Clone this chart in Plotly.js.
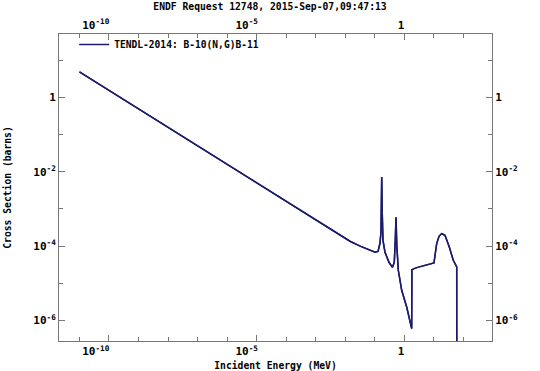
<!DOCTYPE html>
<html>
<head>
<meta charset="utf-8">
<script src="https://cdn.plot.ly/plotly-3.0.1.min.js"></script>
<style>html,body{margin:0;padding:0;background:#fff;}#chart{width:540px;height:371px;}</style>
</head>
<body>
<div id="chart"></div>
<script>
// Incident energy (MeV)
const energy = [1e-11, 1e-9, 1e-7, 1e-5, 1e-3, 3.0e-3, 6.6e-3, 1.45e-2, 3.2e-2, 5.0e-2, 6.9e-2, 0.089, 0.102, 0.129, 0.150, 0.1625, 0.1718,
  0.180, 0.190, 0.222, 0.303, 0.398, 0.458, 0.495, 0.524, 0.557, 0.627, 0.817, 1.205, 1.78, 1.81, 2.63,
  5.74, 10.1, 12.5, 15.0, 18.5, 23.9, 33.4, 45.6, 59.6, 60.0];
// Cross section (barns)
const crossSection = [4.90, 0.490, 0.0490, 4.90e-3, 4.90e-4, 2.84e-4, 1.91e-4, 1.35e-4, 1.0e-4, 8.5e-5, 7.8e-5, 7.1e-5, 6.8e-5, 7.2e-5, 1.19e-4, 2.35e-4, 7.26e-3,
  6.75e-4, 1.43e-4, 6.8e-5, 3.66e-5, 2.68e-5, 3.66e-5, 1.43e-4, 5.96e-4, 1.05e-4, 2.23e-5, 6.44e-6, 2.29e-6, 5.98e-7, 2.32e-5, 2.63e-5,
  3.03e-5, 3.50e-5, 1.17e-4, 1.83e-4, 2.17e-4, 1.95e-4, 9.4e-5, 4.14e-5, 2.73e-5, 1e-8];

const seriesName = 'TENDL-2014: B-10(N,G)B-11';
const chartTitle = 'ENDF Request 12748, 2015-Sep-07,09:47:13';
const xTitle = 'Incident Energy (MeV)';
const yTitle = 'Cross Section (barns)';

const xTickVals = [1e-10, 1e-5, 1];
const xTickText = ['10<sup>-10</sup>', '10<sup>-5</sup>', '1'];
const xMinorVals = [1e-11, 1e-10, 1e-9, 1e-8, 1e-7, 1e-6, 1e-5, 1e-4, 1e-3, 1e-2, 1e-1, 1, 10, 100];
const yTickVals = [1e-6, 1e-4, 1e-2, 1];
const yTickText = ['10<sup>-6</sup>', '10<sup>-4</sup>', '10<sup>-2</sup>', '1'];
const yMinorVals = [1e-7, 1e-6, 1e-5, 1e-4, 1e-3, 1e-2, 1e-1, 1, 10];

// right-align x labels to their tick by padding with non-breaking spaces
const NB = '\u00A0';
const xPad = [4, 3, 1];
const xTickTextPadded = xTickText.map((t, i) => t + NB.repeat(xPad[i]));

const FONT = 'DejaVu Sans Mono, monospace';
const lineColor = '#1c1c6a';
const axisColor = '#777777';
const tickFont = {family: FONT, size: 11, color: '#000', weight: 'bold'};

const xBase = {
  type: 'log', range: [-11.693, 2.97], showgrid: false, zeroline: false,
  showline: true, linecolor: axisColor, linewidth: 1,
  ticks: 'inside', ticklen: 6, tickcolor: axisColor, tickwidth: 1,
  tickmode: 'array', tickvals: xTickVals, ticktext: xTickTextPadded,
  minor: {tickmode: 'array', tickvals: xMinorVals, ticks: 'inside', ticklen: 4, tickcolor: axisColor, tickwidth: 1, showgrid: false},
  tickfont: tickFont,
  fixedrange: true
};
const yBase = {
  type: 'log', range: [-6.557, 1.713], showgrid: false, zeroline: false,
  showline: true, linecolor: axisColor, linewidth: 1,
  ticks: 'inside', ticklen: 6, tickcolor: axisColor, tickwidth: 1,
  tickmode: 'array', tickvals: yTickVals, ticktext: yTickText,
  minor: {tickmode: 'array', tickvals: yMinorVals, ticks: 'inside', ticklen: 4, tickcolor: axisColor, tickwidth: 1, showgrid: false},
  tickfont: tickFont,
  fixedrange: true
};

const traces = [
  {x: energy, y: crossSection, type: 'scatter', mode: 'lines', name: seriesName,
   line: {color: lineColor, width: 1.5}, xaxis: 'x', yaxis: 'y'},
  {x: energy, y: crossSection, type: 'scatter', mode: 'lines', showlegend: false, hoverinfo: 'skip',
   line: {color: lineColor, width: 1.5}, xaxis: 'x2', yaxis: 'y2'}
];

const layout = {
  width: 540, height: 371,
  margin: {l: 59, r: 48, t: 34, b: 30, pad: 0},
  paper_bgcolor: '#ffffff', plot_bgcolor: '#ffffff',
  font: {family: FONT, size: 10, color: '#000', weight: 'bold'},
  title: {text: chartTitle, x: 0.5, xref: 'container', xanchor: 'center', y: 0.982, yanchor: 'middle',
          font: {family: FONT, size: 9.7, color: '#000', weight: 'bold'}},
  xaxis: Object.assign({}, xBase, {side: 'bottom', anchor: 'y',
          title: {text: xTitle + NB.repeat(2), standoff: 6, font: {family: FONT, size: 9.7, color: '#000', weight: 'bold'}}}),
  xaxis2: Object.assign({}, xBase, {side: 'top', overlaying: 'x', anchor: 'y'}),
  yaxis: Object.assign({}, yBase, {side: 'left', anchor: 'x',
          title: {text: yTitle, standoff: 19, font: {family: FONT, size: 9.7, color: '#000', weight: 'bold'}}}),
  yaxis2: Object.assign({}, yBase, {side: 'right', overlaying: 'y', anchor: 'x'}),
  showlegend: true,
  legend: {x: 0.035, xanchor: 'left', y: 0.966, yanchor: 'middle', bgcolor: 'rgba(0,0,0,0)', borderwidth: 0,
           itemwidth: 30, font: {family: FONT, size: 9.6, color: '#000', weight: 'bold'}},
  hovermode: false
};

Plotly.newPlot('chart', traces, layout, {staticPlot: true, displayModeBar: false});
</script>
</body>
</html>
